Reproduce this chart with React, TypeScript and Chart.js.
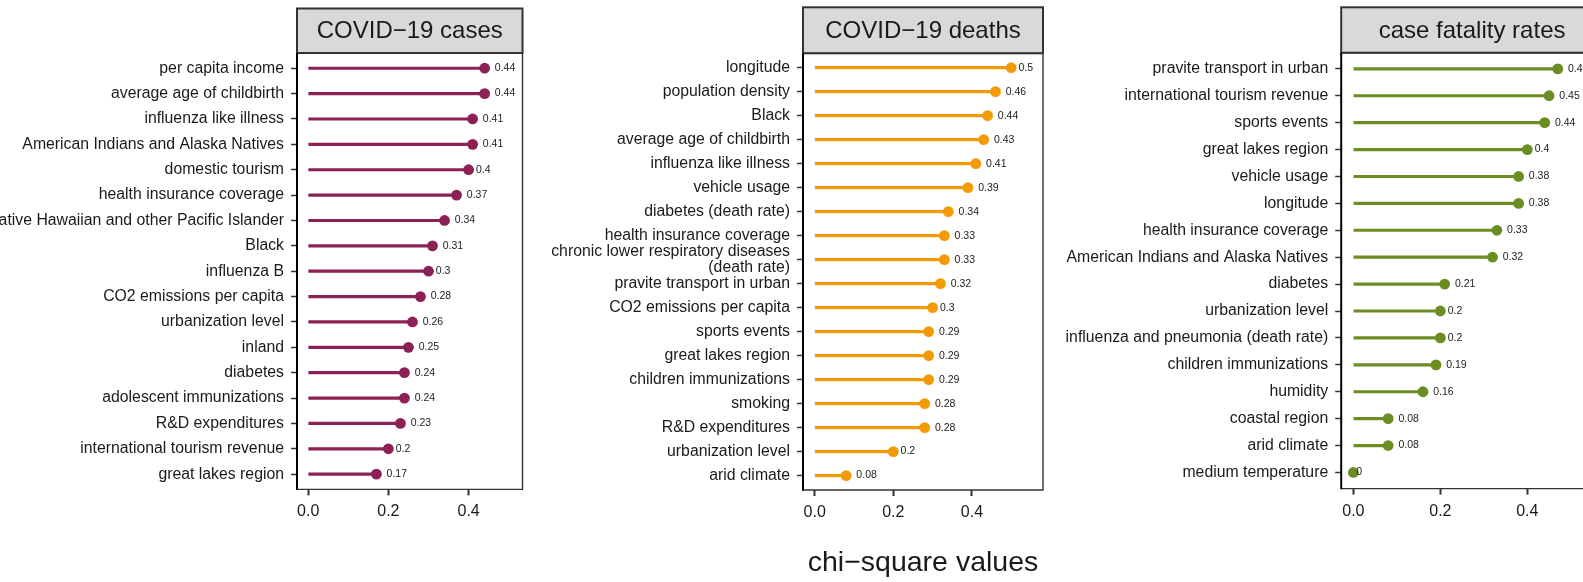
import React, { useEffect, useRef } from 'react';
import { Chart, registerables } from 'chart.js';

Chart.register(...registerables);

// ---------- data ----------
const casesLabels = [
  'per capita income',
  'average age of childbirth',
  'influenza like illness',
  'American Indians and Alaska Natives',
  'domestic tourism',
  'health insurance coverage',
  'Native Hawaiian and other Pacific Islander',
  'Black',
  'influenza B',
  'CO2 emissions per capita',
  'urbanization level',
  'inland',
  'diabetes',
  'adolescent immunizations',
  'R&D expenditures',
  'international tourism revenue',
  'great lakes region',
];
const casesValues = [0.44, 0.44, 0.41, 0.41, 0.4, 0.37, 0.34, 0.31, 0.3, 0.28, 0.26, 0.25, 0.24, 0.24, 0.23, 0.2, 0.17];

const deathsLabels = [
  'longitude',
  'population density',
  'Black',
  'average age of childbirth',
  'influenza like illness',
  'vehicle usage',
  'diabetes (death rate)',
  'health insurance coverage',
  'chronic lower respiratory diseases\n(death rate)',
  'pravite transport in urban',
  'CO2 emissions per capita',
  'sports events',
  'great lakes region',
  'children immunizations',
  'smoking',
  'R&D expenditures',
  'urbanization level',
  'arid climate',
];
const deathsValues = [0.5, 0.46, 0.44, 0.43, 0.41, 0.39, 0.34, 0.33, 0.33, 0.32, 0.3, 0.29, 0.29, 0.29, 0.28, 0.28, 0.2, 0.08];

const cfrLabels = [
  'pravite transport in urban',
  'international tourism revenue',
  'sports events',
  'great lakes region',
  'vehicle usage',
  'longitude',
  'health insurance coverage',
  'American Indians and Alaska Natives',
  'diabetes',
  'urbanization level',
  'influenza and pneumonia (death rate)',
  'children immunizations',
  'humidity',
  'coastal region',
  'arid climate',
  'medium temperature',
];
const cfrValues = [0.47, 0.45, 0.44, 0.4, 0.38, 0.38, 0.33, 0.32, 0.21, 0.2, 0.2, 0.19, 0.16, 0.08, 0.08, 0];

const xTickValues = [0, 0.2, 0.4];
const panelTitles = ['COVID\u221219 cases', 'COVID\u221219 deaths', 'case fatality rates'];
const axisTitle = 'chi\u2212square values';

// ---------- layout / style ----------
const W = 1583;
const H = 582;
const FONT = "'Liberation Sans', Arial, Helvetica, sans-serif";
const TEXT = '#1a1a1a';

type Panel = {
  title: string;
  labels: string[];
  values: number[];
  color: string;
  canvasW: number;
  boxLeft: number;
  boxRight: number;
  boxTop: number;
  boxBottom: number;
  stripTop: number;
  xMin: number;
  xMax: number;
  showAxisTitle: boolean;
};

const panels: Panel[] = [
  {
    title: panelTitles[0], labels: casesLabels, values: casesValues, color: '#8C2155',
    canvasW: 560, boxLeft: 297, boxRight: 522.5, boxTop: 53, boxBottom: 489.4, stripTop: 8.5,
    xMin: -0.0279, xMax: 0.5344, showAxisTitle: false,
  },
  {
    title: panelTitles[1], labels: deathsLabels, values: deathsValues, color: '#F39B06',
    canvasW: 1080, boxLeft: 803, boxRight: 1043, boxTop: 53.3, boxBottom: 490, stripTop: 7.3,
    xMin: -0.0298, xMax: 0.5809, showAxisTitle: true,
  },
  {
    title: panelTitles[2], labels: cfrLabels, values: cfrValues, color: '#6B8E23',
    canvasW: 1640, boxLeft: 1341.2, boxRight: 1603, boxTop: 52.7, boxBottom: 488.6, stripTop: 7.3,
    xMin: -0.028, xMax: 0.574, showAxisTitle: false,
  },
];

function makeChart(canvas: HTMLCanvasElement, p: Panel) {
  const n = p.labels.length;

  const framePlugin = {
    id: 'frame',
    afterDraw(chart: any) {
      const ctx = chart.ctx as CanvasRenderingContext2D;
      const { left, right, top, bottom } = chart.chartArea;
      ctx.save();
      // strip
      ctx.fillStyle = '#D9D9D9';
      ctx.fillRect(left, p.stripTop, right - left, top - p.stripTop);
      ctx.strokeStyle = '#333333';
      ctx.lineWidth = 2;
      ctx.strokeRect(left, p.stripTop, right - left, top - p.stripTop);
      ctx.fillStyle = TEXT;
      ctx.font = `24px ${FONT}`;
      ctx.textAlign = 'center';
      ctx.textBaseline = 'middle';
      ctx.fillText(p.title, (left + right) / 2, (p.stripTop + top) / 2 + 1);
      // panel box
      ctx.strokeStyle = '#333333';
      ctx.lineWidth = 1.4;
      ctx.beginPath();
      ctx.moveTo(left, top);
      ctx.lineTo(right, top);
      ctx.lineTo(right, bottom);
      ctx.lineTo(left, bottom);
      ctx.stroke();
      ctx.strokeStyle = '#000000';
      ctx.lineWidth = 2;
      ctx.beginPath();
      ctx.moveTo(left, top);
      ctx.lineTo(left, bottom + 0.7);
      ctx.stroke();
      ctx.restore();
    },
  };

  const valueLabelPlugin = {
    id: 'valueLabels',
    afterDatasetsDraw(chart: any) {
      const ctx = chart.ctx as CanvasRenderingContext2D;
      const meta = chart.getDatasetMeta(1);
      ctx.save();
      ctx.font = `10.5px ${FONT}`;
      ctx.fillStyle = '#222222';
      ctx.textAlign = 'left';
      ctx.textBaseline = 'middle';
      meta.data.forEach((pt: any, i: number) => {
        const txt = String(p.values[i]);
        const w = ctx.measureText(txt).width;
        ctx.fillText(txt, pt.x + 0.5 * w, pt.y);
      });
      ctx.restore();
    },
  };

  const pts = p.values.map((v, i) => ({ x: v, y: i }));

  return new Chart(canvas, {
    type: 'bar',
    data: {
      datasets: [
        {
          type: 'bar',
          data: pts,
          backgroundColor: p.color,
          borderWidth: 0,
          barThickness: 2.5,
          indexAxis: 'y',
        } as any,
        {
          type: 'scatter',
          data: pts,
          pointRadius: 5.4,
          pointHoverRadius: 5.4,
          pointBackgroundColor: p.color,
          pointBorderWidth: 0,
          showLine: false,
        } as any,
      ],
    },
    options: {
      responsive: false,
      animation: false,
      indexAxis: 'y',
      events: [],
      layout: { padding: { left: 0, right: p.canvasW - p.boxRight, top: p.boxTop, bottom: 0 } },
      plugins: { legend: { display: false }, tooltip: { enabled: false } },
      scales: {
        x: {
          type: 'linear',
          position: 'bottom',
          offset: false,
          min: p.xMin,
          max: p.xMax,
          afterBuildTicks: (s: any) => {
            s.ticks = xTickValues.map((v) => ({ value: v }));
          },
          afterFit: (s: any) => {
            s.height = H - p.boxBottom;
          },
          grid: { offset: false, drawOnChartArea: false, drawTicks: true, tickLength: 6, tickColor: '#333333', tickWidth: 2, color: '#333333' },
          border: { display: false },
          ticks: {
            callback: (v: any) => Number(v).toFixed(1),
            font: { family: FONT, size: 16 },
            color: TEXT,
            padding: 7,
            maxRotation: 0,
            autoSkip: false,
          },
          title: {
            display: p.showAxisTitle,
            text: axisTitle,
            font: { family: FONT, size: 28.5 },
            color: TEXT,
            padding: { top: 0, bottom: 2 },
          },
        },
        y: {
          type: 'linear',
          position: 'left',
          offset: false,
          reverse: true,
          min: -0.6,
          max: n - 0.4,
          afterBuildTicks: (s: any) => {
            s.ticks = p.labels.map((_, i) => ({ value: i }));
          },
          afterFit: (s: any) => {
            s.width = p.boxLeft;
          },
          grid: { offset: false, drawOnChartArea: false, drawTicks: true, tickLength: 6, tickColor: '#333333', tickWidth: 1.5, color: '#333333' },
          border: { display: false },
          ticks: {
            callback: (v: any) => {
              const lab = p.labels[Math.round(Number(v))];
              return lab === undefined ? '' : lab.split('\n');
            },
            font: { family: FONT, size: 15.8, lineHeight: 1.05 },
            color: TEXT,
            padding: 7,
            autoSkip: false,
          },
        },
      },
    } as any,
    plugins: [framePlugin, valueLabelPlugin],
  });
}

export default function App() {
  const refs = [useRef<HTMLCanvasElement>(null), useRef<HTMLCanvasElement>(null), useRef<HTMLCanvasElement>(null)];

  useEffect(() => {
    const charts = panels.map((p, i) => makeChart(refs[i].current as HTMLCanvasElement, p));
    return () => charts.forEach((c) => c.destroy());
  }, []);

  return (
    <div style={{ position: 'fixed', left: 0, top: 0, width: W, height: H, overflow: 'hidden', background: '#ffffff' }}>
      {panels.map((p, i) => (
        <canvas
          key={i}
          ref={refs[i]}
          width={p.canvasW}
          height={H}
          style={{ position: 'absolute', left: 0, top: 0, width: p.canvasW, height: H }}
        />
      ))}
    </div>
  );
}
